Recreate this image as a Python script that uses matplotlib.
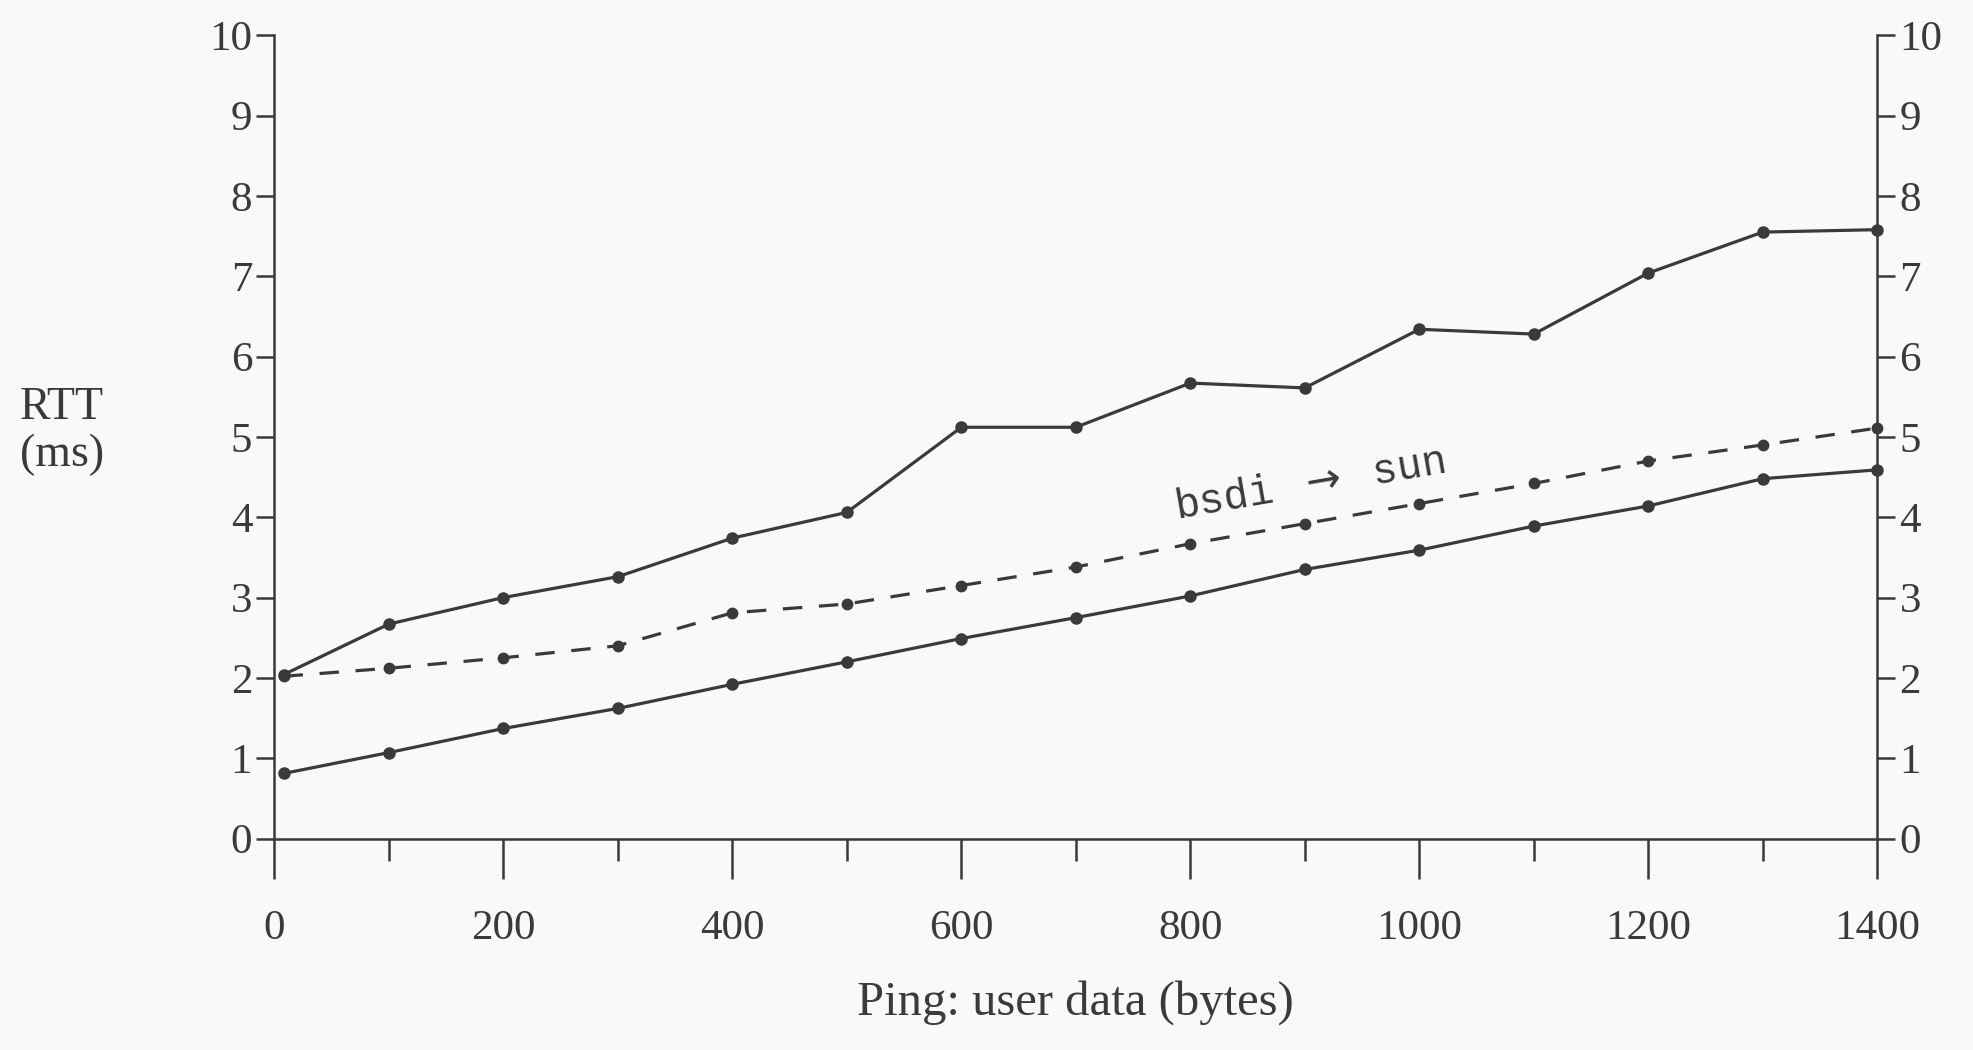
import numpy as np
import matplotlib.pyplot as plt
from matplotlib.ticker import MultipleLocator

# ping payload sizes (bytes)
sizes = [8, 100, 200, 300, 400, 500, 600, 700, 800, 900, 1000, 1100, 1200, 1300, 1400]

# RTT in ms
rtt_upper = [2.04, 2.67, 3.00, 3.26, 3.74, 4.06, 5.12, 5.12, 5.67, 5.61, 6.34, 6.28, 7.04, 7.55, 7.58]
rtt_dashed = [2.02, 2.12, 2.25, 2.40, 2.81, 2.92, 3.15, 3.38, 3.67, 3.92, 4.17, 4.42, 4.70, 4.90, 5.11]
rtt_lower = [0.81, 1.07, 1.37, 1.62, 1.92, 2.20, 2.49, 2.75, 3.02, 3.35, 3.59, 3.89, 4.14, 4.48, 4.59]

x_ticks = [0, 200, 400, 600, 800, 1000, 1200, 1400]
y_ticks = list(range(0, 11))

ink = "#3a3a3a"
bg = "#f9f9f9"
serif = ["Liberation Serif", "DejaVu Serif"]
mono = ["Liberation Mono", "DejaVu Sans Mono"]

plt.rcParams["lines.scale_dashes"] = False

fig = plt.figure(figsize=(19.74, 10.5), dpi=100, facecolor=bg)
ax = fig.add_axes([0.139, 0.2014, 0.951 - 0.139, 0.9664 - 0.2014])
ax.set_facecolor(bg)

ax.plot(sizes, rtt_upper, color=ink, lw=2.3, marker="o", ms=8, clip_on=False)
ax.plot(sizes, rtt_dashed, color=ink, lw=2.3, marker="o", ms=7.5, clip_on=False,
        dashes=(14, 12))
ax.plot(sizes, rtt_lower, color=ink, lw=2.3, marker="o", ms=8, clip_on=False)

ax.text(788, 3.98, r"bsdi $\rightarrow$ sun", family=mono, fontsize=30, color=ink,
        rotation=9.8, ha="left", va="baseline", rotation_mode="anchor")

ax.set_xlim(0, 1400)
ax.set_ylim(0, 10)
ax.set_xticks(x_ticks)
ax.xaxis.set_minor_locator(MultipleLocator(100))
ax.set_yticks(y_ticks)

ax.spines["top"].set_visible(False)
for s in ["left", "right", "bottom"]:
    ax.spines[s].set_color(ink)
    ax.spines[s].set_linewidth(1.8)

ax.tick_params(axis="x", which="major", direction="out", length=29, width=1.8,
               color=ink, pad=22, labelsize=31, labelcolor=ink)
ax.tick_params(axis="x", which="minor", direction="out", length=16, width=1.8,
               color=ink)
ax.tick_params(axis="y", which="major", direction="out", length=13, width=1.8,
               color=ink, pad=3, labelsize=31, labelcolor=ink,
               right=True, labelright=True)

for lab in ax.get_xticklabels() + ax.get_yticklabels():
    lab.set_family(serif)

fig.text(0.010, 0.589, "RTT\n(ms)", family=serif, fontsize=33, color=ink,
         ha="left", va="center", multialignment="center", linespacing=1.15)
fig.text(0.545, 0.045, "Ping: user data (bytes)", family=serif, fontsize=35,
         color=ink, ha="center", va="center")

fig.savefig("out.png", dpi=100, facecolor=bg)
